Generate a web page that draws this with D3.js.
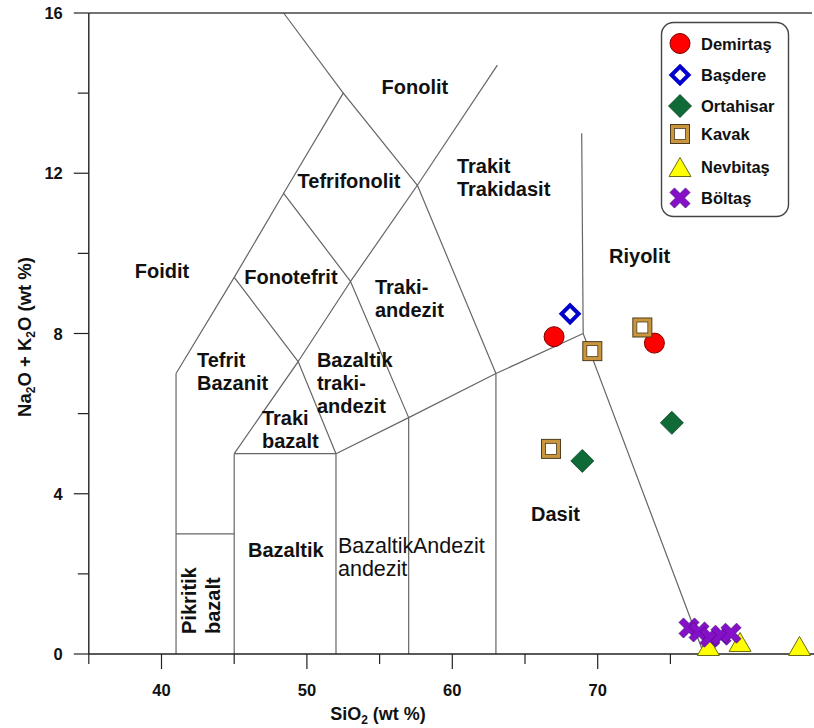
<!DOCTYPE html>
<html>
<head>
<meta charset="utf-8">
<script src="https://cdn.jsdelivr.net/npm/d3@7"></script>
<style>
  body { margin: 0; background: #fff; }
  text { font-family: "Liberation Sans", Arial, sans-serif; }
</style>
</head>
<body>
<svg id="chart" width="814" height="728"></svg>
<script>
// ---- Axis ticks ----
const xTicksMajor = [40, 50, 60, 70];
const xTicksMinor = [35, 45, 55, 65, 75];
const yTicksMajor = [0, 4, 8, 12, 16];
const yTicksMinor = [2, 6, 10, 14];

// ---- TAS field boundaries (SiO2, Na2O+K2O) ----
const boundaries = [
  [[41, 0], [41, 7]],
  [[41, 3], [45, 3]],
  [[45, 0], [45, 5]],
  [[45, 5], [52, 5]],
  [[52, 0], [52, 5]],
  [[57, 0], [57, 5.9]],
  [[63, 0], [63, 7]],
  [[52, 5], [57, 5.9], [63, 7], [69, 8], [77.3, 0]],
  [[69, 8], [68.9, 13]],
  [[45, 5], [49.4, 7.3], [52, 5]],
  [[49.4, 7.3], [53, 9.3], [57, 5.9]],
  [[53, 9.3], [57.6, 11.7], [63, 7]],
  [[41, 7], [45, 9.4], [49.4, 7.3]],
  [[45, 9.4], [48.4, 11.5], [53, 9.3]],
  [[48.4, 11.5], [52.5, 14], [57.6, 11.7]],
  [[52.5, 14], [48.4, 16]],
  [[57.6, 11.7], [63.1, 14.7]]
];

// ---- Field names: anchor (SiO2, alkali) of first line ----
const fieldNames = [
  { lines: ["Fonolit"], at: [57.43, 13.98], anchor: "middle" },
  { lines: ["Tefrifonolit"], at: [52.9, 11.63], anchor: "middle" },
  { lines: ["Trakit", "Trakidasit"], at: [60.32, 12.0], anchor: "start" },
  { lines: ["Foidit"], at: [40.03, 9.39], anchor: "middle" },
  { lines: ["Fonotefrit"], at: [48.9, 9.24], anchor: "middle" },
  { lines: ["Traki-", "andezit"], at: [54.68, 8.99], anchor: "start" },
  { lines: ["Tefrit", "Bazanit"], at: [42.44, 7.16], anchor: "start" },
  { lines: ["Bazaltik", "traki-", "andezit"], at: [50.69, 7.16], anchor: "start" },
  { lines: ["Traki", "bazalt"], at: [46.91, 5.72], anchor: "start" },
  { lines: ["Riyolit"], at: [70.78, 9.76], anchor: "start" },
  { lines: ["Dasit"], at: [65.41, 3.32], anchor: "start" },
  { lines: ["Bazaltik"], at: [45.95, 2.42], anchor: "start" },
  { lines: ["Bazaltik", "andezit"], at: [52.14, 2.52], anchor: "start", light: true },
  { lines: ["Andezit"], at: [57.3, 2.52], anchor: "start", light: true }
];
const verticalNames = [
  { text: "Pikritik", at: [42.37, 0.5] },
  { text: "bazalt", at: [43.99, 0.5] }
];

// ---- Samples ----
const groups = ["Demirtaş", "Başdere", "Ortahisar", "Kavak", "Nevbitaş", "Böltaş"];
const demirtasSiO2 = [67.0, 73.9];
const demirtasAlk = [7.92, 7.76];
const basdereSiO2 = [68.1];
const basdereAlk = [8.49];
const ortahisarSiO2 = [68.94, 75.1];
const ortahisarAlk = [4.82, 5.77];
const kavakSiO2 = [69.63, 73.07, 66.79];
const kavakAlk = [7.56, 8.15, 5.12];
const nevbitasSiO2 = [77.61, 79.79, 83.88];
const nevbitasAlk = [0.2, 0.3, 0.2];
const boltasSiO2 = [76.28, 76.97, 77.72, 78.48, 79.17];
const boltasAlk = [0.65, 0.55, 0.42, 0.47, 0.52];

const sampleSets = [
  { name: groups[0], x: demirtasSiO2, y: demirtasAlk, shape: "circle" },
  { name: groups[1], x: basdereSiO2, y: basdereAlk, shape: "openDiamond" },
  { name: groups[2], x: ortahisarSiO2, y: ortahisarAlk, shape: "diamond" },
  { name: groups[3], x: kavakSiO2, y: kavakAlk, shape: "square" },
  { name: groups[4], x: nevbitasSiO2, y: nevbitasAlk, shape: "triangle" },
  { name: groups[5], x: boltasSiO2, y: boltasAlk, shape: "cross" }
];

// ---- Layout ----
const svg = d3.select("#chart");
const x = d3.scaleLinear().domain([35, 85]).range([88.8, 815.8]);
const y = d3.scaleLinear().domain([0, 16]).range([654, 13]);
const lineColor = "#666";
const axisColor = "#222";

// field boundaries
const line = d3.line().x(d => x(d[0])).y(d => y(d[1]));
svg.append("g").selectAll("path").data(boundaries).join("path")
  .attr("d", line).attr("fill", "none")
  .attr("stroke", lineColor).attr("stroke-width", 1.2);

// top frame line
svg.append("line")
  .attr("x1", x(35)).attr("x2", 812).attr("y1", y(16)).attr("y2", y(16))
  .attr("stroke", "#444").attr("stroke-width", 1.4);

// X axis
const xAxisG = svg.append("g").attr("transform", `translate(0,${y(0)})`);
xAxisG.append("line").attr("x1", x(35)).attr("x2", 814).attr("stroke", axisColor).attr("stroke-width", 1.4);
xAxisG.selectAll(".xmaj").data(xTicksMajor).join("line")
  .attr("x1", d => x(d)).attr("x2", d => x(d)).attr("y1", 0).attr("y2", 15)
  .attr("stroke", axisColor).attr("stroke-width", 1.2);
xAxisG.selectAll(".xmin").data(xTicksMinor).join("line")
  .attr("x1", d => x(d)).attr("x2", d => x(d)).attr("y1", 0).attr("y2", 10)
  .attr("stroke", axisColor).attr("stroke-width", 1.2);
xAxisG.selectAll("text").data(xTicksMajor).join("text")
  .attr("x", d => x(d)).attr("y", 42).attr("text-anchor", "middle")
  .attr("font-size", 16.5).attr("font-weight", "bold").attr("fill", "#111")
  .text(d => d);

// Y axis
const yAxisG = svg.append("g").attr("transform", `translate(${x(35)},0)`);
yAxisG.append("line").attr("y1", y(16)).attr("y2", y(0)).attr("stroke", axisColor).attr("stroke-width", 1.4);
yAxisG.selectAll(".ymaj").data(yTicksMajor).join("line")
  .attr("x1", -15).attr("x2", 0).attr("y1", d => y(d)).attr("y2", d => y(d))
  .attr("stroke", axisColor).attr("stroke-width", 1.2);
yAxisG.selectAll(".ymin").data(yTicksMinor).join("line")
  .attr("x1", -11).attr("x2", 0).attr("y1", d => y(d)).attr("y2", d => y(d))
  .attr("stroke", axisColor).attr("stroke-width", 1.2);
yAxisG.selectAll("text").data(yTicksMajor).join("text")
  .attr("x", -26).attr("y", d => y(d) + 6).attr("text-anchor", "end")
  .attr("font-size", 16.5).attr("font-weight", "bold").attr("fill", "#111")
  .text(d => d);

// axis titles
const xt = svg.append("text").attr("x", 378).attr("y", 720).attr("text-anchor", "middle")
  .attr("font-size", 18).attr("font-weight", "bold").attr("fill", "#111");
xt.append("tspan").text("SiO");
xt.append("tspan").attr("font-size", 12).attr("dy", 4).text("2");
xt.append("tspan").attr("dy", -4).text(" (wt %)");

const yt = svg.append("text").attr("transform", "translate(31,337) rotate(-90)")
  .attr("text-anchor", "middle").attr("font-size", 18.5).attr("font-weight", "bold").attr("fill", "#111");
yt.append("tspan").text("Na");
yt.append("tspan").attr("font-size", 12).attr("dy", 4).text("2");
yt.append("tspan").attr("dy", -4).text("O + K");
yt.append("tspan").attr("font-size", 12).attr("dy", 4).text("2");
yt.append("tspan").attr("dy", -4).text("O (wt %)");

// field names
const names = svg.append("g");
fieldNames.forEach(f => {
  const t = names.append("text")
    .attr("x", x(f.at[0])).attr("y", y(f.at[1]))
    .attr("text-anchor", f.anchor)
    .attr("font-size", f.light ? 21.5 : 20).attr("font-weight", f.light ? "normal" : "bold")
    .attr("fill", "#111");
  f.lines.forEach((l, i) => {
    t.append("tspan").attr("x", x(f.at[0])).attr("dy", i === 0 ? 0 : 23).text(l);
  });
});
verticalNames.forEach(v => {
  names.append("text")
    .attr("transform", `translate(${x(v.at[0])},${y(v.at[1])}) rotate(-90)`)
    .attr("font-size", 20).attr("font-weight", "bold").attr("fill", "#111")
    .text(v.text);
});

// ---- Marker drawing ----
function drawMarker(g, shape, cx, cy) {
  const m = g.append("g").attr("transform", `translate(${cx},${cy})`);
  if (shape === "circle") {
    m.append("circle").attr("r", 10).attr("fill", "#ff0000").attr("stroke", "#7a0000").attr("stroke-width", 1);
  } else if (shape === "openDiamond") {
    const s = 8.5;
    m.append("path").attr("d", `M0,${-s}L${s},0L0,${s}L${-s},0Z`)
      .attr("fill", "#fff").attr("stroke", "#0000cc").attr("stroke-width", 4).attr("stroke-linejoin", "miter");
  } else if (shape === "diamond") {
    const s = 11.5;
    m.append("path").attr("d", `M0,${-s}L${s},0L0,${s}L${-s},0Z`)
      .attr("fill", "#0f6a37").attr("stroke", "#07401f").attr("stroke-width", 0.8);
  } else if (shape === "square") {
    m.append("rect").attr("x", -9.5).attr("y", -9.5).attr("width", 19).attr("height", 19)
      .attr("fill", "#c9963f").attr("stroke", "#4d3b1a").attr("stroke-width", 1);
    m.append("rect").attr("x", -5.5).attr("y", -5.5).attr("width", 11).attr("height", 11)
      .attr("fill", "#fff").attr("stroke", "#4d3b1a").attr("stroke-width", 0.8);
  } else if (shape === "triangle") {
    m.append("path").attr("d", "M0,-9.5L11,9.5L-11,9.5Z")
      .attr("fill", "#ffff00").attr("stroke", "#6b6b10").attr("stroke-width", 1);
  } else if (shape === "cross") {
    const a = 3.2, L = 11;
    const plus = [[-a, -L], [a, -L], [a, -a], [L, -a], [L, a], [a, a], [a, L], [-a, L], [-a, a], [-L, a], [-L, -a], [-a, -a]];
    const c = Math.SQRT1_2;
    const rot = plus.map(([px, py]) => [px * c - py * c, px * c + py * c]);
    m.append("path").attr("d", "M" + rot.map(p => p.join(",")).join("L") + "Z")
      .attr("fill", "#8410c8").attr("stroke", "#4b0a78").attr("stroke-width", 0.7);
  }
}

// samples
const pts = svg.append("g");
sampleSets.forEach(s => {
  s.x.forEach((v, i) => drawMarker(pts, s.shape, x(v), y(s.y[i])));
});

// ---- Legend ----
const legend = svg.append("g");
legend.append("rect").attr("x", 661.5).attr("y", 22.5).attr("width", 127).attr("height", 194)
  .attr("rx", 12).attr("fill", "#fff").attr("stroke", "#444").attr("stroke-width", 1.4);
const legendRowY = [43.5, 75, 106, 134, 167, 198];
sampleSets.forEach((s, i) => {
  drawMarker(legend, s.shape, 680, legendRowY[i]);
  legend.append("text").attr("x", 701).attr("y", legendRowY[i] + 6)
    .attr("font-size", 16.5).attr("font-weight", "bold").attr("fill", "#111")
    .text(s.name);
});
</script>
</body>
</html>
